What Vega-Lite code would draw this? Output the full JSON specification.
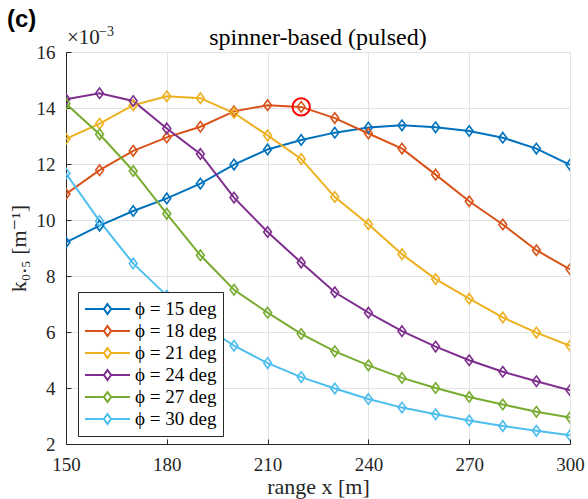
{
  "$schema": "https://vega.github.io/schema/vega-lite/v6.json",
  "autosize": "none",
  "width": 504,
  "height": 392,
  "padding": {"left": 66, "top": 52, "right": 18, "bottom": 55},
  "background": "white",
  "config": {
    "font": "'Liberation Serif', 'Times New Roman', 'DejaVu Serif', serif",
    "view": {"stroke": "#e3e3e3", "strokeWidth": 1},
    "axis": {
      "labelFont": "'Liberation Serif', 'Times New Roman', 'DejaVu Serif', serif",
      "labelFontSize": 19,
      "labelColor": "#262626",
      "labelFlush": false,
      "titleFont": "'Liberation Serif', 'Times New Roman', 'DejaVu Serif', serif",
      "titleFontSize": 22,
      "titleFontWeight": "normal",
      "titleColor": "#262626",
      "domainColor": "#262626",
      "tickColor": "#262626",
      "gridColor": "#e3e3e3",
      "gridOpacity": 1,
      "tickSize": -5,
      "labelPadding": 16
    }
  },
  "datasets": {
    "curves": [
      {"x": 150, "k": 9.20, "s": "ϕ = 15 deg"},
      {"x": 160, "k": 9.80, "s": "ϕ = 15 deg"},
      {"x": 170, "k": 10.32, "s": "ϕ = 15 deg"},
      {"x": 180, "k": 10.77, "s": "ϕ = 15 deg"},
      {"x": 190, "k": 11.30, "s": "ϕ = 15 deg"},
      {"x": 200, "k": 11.98, "s": "ϕ = 15 deg"},
      {"x": 210, "k": 12.52, "s": "ϕ = 15 deg"},
      {"x": 220, "k": 12.86, "s": "ϕ = 15 deg"},
      {"x": 230, "k": 13.12, "s": "ϕ = 15 deg"},
      {"x": 240, "k": 13.30, "s": "ϕ = 15 deg"},
      {"x": 250, "k": 13.38, "s": "ϕ = 15 deg"},
      {"x": 260, "k": 13.31, "s": "ϕ = 15 deg"},
      {"x": 270, "k": 13.18, "s": "ϕ = 15 deg"},
      {"x": 280, "k": 12.94, "s": "ϕ = 15 deg"},
      {"x": 290, "k": 12.55, "s": "ϕ = 15 deg"},
      {"x": 300, "k": 11.97, "s": "ϕ = 15 deg"},
      {"x": 150, "k": 10.93, "s": "ϕ = 18 deg"},
      {"x": 160, "k": 11.78, "s": "ϕ = 18 deg"},
      {"x": 170, "k": 12.47, "s": "ϕ = 18 deg"},
      {"x": 180, "k": 12.95, "s": "ϕ = 18 deg"},
      {"x": 190, "k": 13.33, "s": "ϕ = 18 deg"},
      {"x": 200, "k": 13.88, "s": "ϕ = 18 deg"},
      {"x": 210, "k": 14.10, "s": "ϕ = 18 deg"},
      {"x": 220, "k": 14.04, "s": "ϕ = 18 deg"},
      {"x": 230, "k": 13.64, "s": "ϕ = 18 deg"},
      {"x": 240, "k": 13.09, "s": "ϕ = 18 deg"},
      {"x": 250, "k": 12.55, "s": "ϕ = 18 deg"},
      {"x": 260, "k": 11.62, "s": "ϕ = 18 deg"},
      {"x": 270, "k": 10.67, "s": "ϕ = 18 deg"},
      {"x": 280, "k": 9.84, "s": "ϕ = 18 deg"},
      {"x": 290, "k": 8.92, "s": "ϕ = 18 deg"},
      {"x": 300, "k": 8.24, "s": "ϕ = 18 deg"},
      {"x": 150, "k": 12.90, "s": "ϕ = 21 deg"},
      {"x": 160, "k": 13.44, "s": "ϕ = 21 deg"},
      {"x": 170, "k": 14.10, "s": "ϕ = 21 deg"},
      {"x": 180, "k": 14.42, "s": "ϕ = 21 deg"},
      {"x": 190, "k": 14.35, "s": "ϕ = 21 deg"},
      {"x": 200, "k": 13.82, "s": "ϕ = 21 deg"},
      {"x": 210, "k": 13.02, "s": "ϕ = 21 deg"},
      {"x": 220, "k": 12.18, "s": "ϕ = 21 deg"},
      {"x": 230, "k": 10.82, "s": "ϕ = 21 deg"},
      {"x": 240, "k": 9.85, "s": "ϕ = 21 deg"},
      {"x": 250, "k": 8.78, "s": "ϕ = 21 deg"},
      {"x": 260, "k": 7.89, "s": "ϕ = 21 deg"},
      {"x": 270, "k": 7.19, "s": "ϕ = 21 deg"},
      {"x": 280, "k": 6.52, "s": "ϕ = 21 deg"},
      {"x": 290, "k": 5.98, "s": "ϕ = 21 deg"},
      {"x": 300, "k": 5.51, "s": "ϕ = 21 deg"},
      {"x": 150, "k": 14.31, "s": "ϕ = 24 deg"},
      {"x": 160, "k": 14.53, "s": "ϕ = 24 deg"},
      {"x": 170, "k": 14.25, "s": "ϕ = 24 deg"},
      {"x": 180, "k": 13.27, "s": "ϕ = 24 deg"},
      {"x": 190, "k": 12.36, "s": "ϕ = 24 deg"},
      {"x": 200, "k": 10.80, "s": "ϕ = 24 deg"},
      {"x": 210, "k": 9.57, "s": "ϕ = 24 deg"},
      {"x": 220, "k": 8.48, "s": "ϕ = 24 deg"},
      {"x": 230, "k": 7.42, "s": "ϕ = 24 deg"},
      {"x": 240, "k": 6.69, "s": "ϕ = 24 deg"},
      {"x": 250, "k": 6.03, "s": "ϕ = 24 deg"},
      {"x": 260, "k": 5.48, "s": "ϕ = 24 deg"},
      {"x": 270, "k": 4.99, "s": "ϕ = 24 deg"},
      {"x": 280, "k": 4.58, "s": "ϕ = 24 deg"},
      {"x": 290, "k": 4.24, "s": "ϕ = 24 deg"},
      {"x": 300, "k": 3.92, "s": "ϕ = 24 deg"},
      {"x": 150, "k": 14.15, "s": "ϕ = 27 deg"},
      {"x": 160, "k": 13.06, "s": "ϕ = 27 deg"},
      {"x": 170, "k": 11.75, "s": "ϕ = 27 deg"},
      {"x": 180, "k": 10.22, "s": "ϕ = 27 deg"},
      {"x": 190, "k": 8.74, "s": "ϕ = 27 deg"},
      {"x": 200, "k": 7.51, "s": "ϕ = 27 deg"},
      {"x": 210, "k": 6.69, "s": "ϕ = 27 deg"},
      {"x": 220, "k": 5.93, "s": "ϕ = 27 deg"},
      {"x": 230, "k": 5.31, "s": "ϕ = 27 deg"},
      {"x": 240, "k": 4.81, "s": "ϕ = 27 deg"},
      {"x": 250, "k": 4.36, "s": "ϕ = 27 deg"},
      {"x": 260, "k": 4.00, "s": "ϕ = 27 deg"},
      {"x": 270, "k": 3.68, "s": "ϕ = 27 deg"},
      {"x": 280, "k": 3.41, "s": "ϕ = 27 deg"},
      {"x": 290, "k": 3.15, "s": "ϕ = 27 deg"},
      {"x": 300, "k": 2.95, "s": "ϕ = 27 deg"},
      {"x": 150, "k": 11.66, "s": "ϕ = 30 deg"},
      {"x": 160, "k": 9.96, "s": "ϕ = 30 deg"},
      {"x": 170, "k": 8.45, "s": "ϕ = 30 deg"},
      {"x": 180, "k": 7.30, "s": "ϕ = 30 deg"},
      {"x": 190, "k": 6.30, "s": "ϕ = 30 deg"},
      {"x": 200, "k": 5.51, "s": "ϕ = 30 deg"},
      {"x": 210, "k": 4.89, "s": "ϕ = 30 deg"},
      {"x": 220, "k": 4.39, "s": "ϕ = 30 deg"},
      {"x": 230, "k": 3.98, "s": "ϕ = 30 deg"},
      {"x": 240, "k": 3.61, "s": "ϕ = 30 deg"},
      {"x": 250, "k": 3.30, "s": "ϕ = 30 deg"},
      {"x": 260, "k": 3.06, "s": "ϕ = 30 deg"},
      {"x": 270, "k": 2.84, "s": "ϕ = 30 deg"},
      {"x": 280, "k": 2.64, "s": "ϕ = 30 deg"},
      {"x": 290, "k": 2.47, "s": "ϕ = 30 deg"},
      {"x": 300, "k": 2.31, "s": "ϕ = 30 deg"}
    ],
    "peak": [
      {"x": 220, "k": 14.04}
    ],
    "labels": [
      {"x": 225, "k": 16, "t": "spinner-based (pulsed)"}
    ]
  },
  "encoding": {
    "x": {
      "field": "x",
      "type": "quantitative",
      "scale": {"domain": [150, 300], "nice": false, "zero": false},
      "axis": {"values": [150, 180, 210, 240, 270, 300], "title": "range x [m]", "titlePadding": 2}
    },
    "y": {
      "field": "k",
      "type": "quantitative",
      "scale": {"domain": [2, 16], "nice": false, "zero": false},
      "axis": {"values": [2, 4, 6, 8, 10, 12, 14, 16], "title": "k₀.₅ [m⁻¹]", "titlePadding": 6}
    }
  },
  "layer": [
    {
      "data": {"name": "curves"},
      "mark": {"type": "line", "strokeWidth": 2, "clip": true},
      "encoding": {
        "color": {
          "field": "s",
          "type": "nominal",
          "sort": null,
          "scale": {
            "domain": ["ϕ = 15 deg", "ϕ = 18 deg", "ϕ = 21 deg", "ϕ = 24 deg", "ϕ = 27 deg", "ϕ = 30 deg"],
            "range": ["#0072BD", "#D95319", "#EDB120", "#7E2F8E", "#77AC30", "#4DBEEE"]
          },
          "legend": {
            "title": null,
            "orient": "none",
            "legendX": 12,
            "legendY": 240,
            "direction": "vertical",
            "fillColor": "white",
            "strokeColor": "#262626",
            "padding": 6,
            "rowPadding": 0,
            "clipHeight": 22,
            "symbolType": "M-1,0H-0.17M0.17,0H1M0,-0.22L0.16,0L0,0.22L-0.16,0Z",
            "symbolSize": 2025,
            "symbolStrokeWidth": 2,
            "symbolFillColor": "transparent",
            "labelFont": "'Liberation Serif', 'Times New Roman', 'DejaVu Serif', serif",
            "labelFontSize": 19,
            "labelColor": "#000000",
            "labelOffset": 4
          }
        }
      }
    },
    {
      "data": {"name": "curves"},
      "mark": {
        "type": "point",
        "shape": "M0,-1L0.75,0L0,1L-0.75,0Z",
        "size": 110,
        "filled": false,
        "strokeWidth": 1.6,
        "opacity": 1,
        "clip": true
      },
      "encoding": {
        "color": {"field": "s", "type": "nominal", "sort": null}
      }
    },
    {
      "data": {"name": "peak"},
      "mark": {"type": "point", "shape": "circle", "size": 300, "filled": false, "stroke": "#ff0000", "strokeWidth": 2, "opacity": 1}
    },
    {
      "data": {"name": "labels"},
      "mark": {"type": "text", "font": "'Liberation Serif', 'Times New Roman', 'DejaVu Serif', serif", "fontSize": 24, "align": "center", "baseline": "alphabetic", "color": "#000000", "dy": -7},
      "encoding": {"text": {"field": "t"}}
    },
    {
      "data": {"name": "peak"},
      "mark": {"type": "text", "text": "×10", "font": "'Liberation Serif', 'Times New Roman', 'DejaVu Serif', serif", "fontSize": 21, "align": "left", "baseline": "alphabetic", "color": "#262626", "dx": 1, "dy": -8},
      "encoding": {"x": {"datum": 150}, "y": {"datum": 16}}
    },
    {
      "data": {"name": "peak"},
      "mark": {"type": "text", "text": "−3", "font": "'Liberation Serif', 'Times New Roman', 'DejaVu Serif', serif", "fontSize": 14, "align": "left", "baseline": "alphabetic", "color": "#262626", "dx": 33, "dy": -16},
      "encoding": {"x": {"datum": 150}, "y": {"datum": 16}}
    },
    {
      "data": {"name": "peak"},
      "mark": {"type": "text", "text": "(c)", "font": "Liberation Sans", "fontSize": 24, "fontWeight": "bold", "align": "left", "baseline": "alphabetic", "color": "#000000", "dx": -59, "dy": -25},
      "encoding": {"x": {"datum": 150}, "y": {"datum": 16}}
    }
  ]
}
